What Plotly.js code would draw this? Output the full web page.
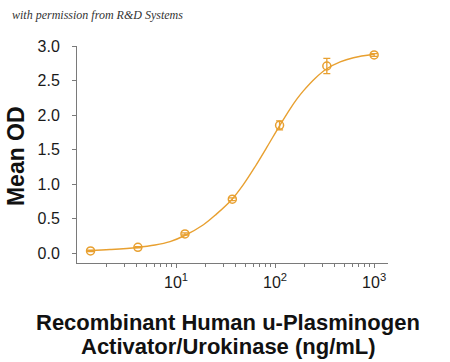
<!DOCTYPE html>
<html>
<head>
<meta charset="utf-8">
<script src="https://cdn.plot.ly/plotly-3.0.1.min.js"></script>
<style>
  html, body { margin: 0; padding: 0; background: #fff; }
  #chart { width: 450px; height: 362px; }
</style>
</head>
<body>
<div id="chart"></div>
<script>
// Measured points (concentration ng/mL, mean OD, error)
var concentration = [1.37, 4.12, 12.3, 37.0, 111, 333, 1000];
var meanOD = [0.03, 0.083, 0.276, 0.78, 1.85, 2.71, 2.87];
var errOD = [0.01, 0.01, 0.015, 0.02, 0.065, 0.11, 0.02];

// Fitted curve
var curveX = [1.37, 2.15, 4.04, 6.14, 8.70, 12.1, 18.9, 25.4, 36.8, 47.8, 62.8, 82.4, 110.5, 141.9, 165.6, 193, 253, 333, 454, 618, 1000];
var curveY = [0.035, 0.05, 0.08, 0.115, 0.165, 0.25, 0.41, 0.56, 0.78, 0.99, 1.25, 1.53, 1.84, 2.09, 2.23, 2.35, 2.53, 2.67, 2.77, 2.83, 2.88];

// Tick labels
var yTickVals = [0, 0.5, 1.0, 1.5, 2.0, 2.5, 3.0];
var xTickVals = [10, 100, 1000];
var xTickText = ['10<sup>1</sup>', '10<sup>2</sup>', '10<sup>3</sup>'];
var xMinorVals = [2, 3, 4, 5, 6, 7, 8, 9, 20, 30, 40, 50, 60, 70, 80, 90, 200, 300, 400, 500, 600, 700, 800, 900];

var orange = '#E8A030';
var axisGrey = '#7a7a7a';

var traces = [
  {
    x: curveX, y: curveY, type: 'scatter', mode: 'lines',
    line: { color: orange, width: 1.4, shape: 'spline', smoothing: 1 },
    hoverinfo: 'skip', showlegend: false
  },
  {
    x: concentration, y: meanOD, type: 'scatter', mode: 'markers',
    marker: { symbol: 'circle-open', size: 8, color: orange, line: { color: orange, width: 1.5 } },
    error_y: { type: 'data', array: errOD, visible: true, color: orange, thickness: 1.3, width: 3.5 },
    showlegend: false
  }
];

var layout = {
  width: 450, height: 362,
  margin: { l: 77, r: 62, t: 46, b: 99 },
  paper_bgcolor: '#ffffff', plot_bgcolor: '#ffffff',
  font: { family: 'Liberation Sans, Arial, sans-serif', color: '#1a1a1a' },
  showlegend: false,
  xaxis: {
    type: 'log', range: [0, 3.14],
    tickmode: 'array', tickvals: xTickVals, ticktext: xTickText,
    ticks: 'outside', ticklen: 4, tickcolor: axisGrey, tickwidth: 1,
    ticklabelstandoff: 1,
    minor: { tickmode: 'array', tickvals: xMinorVals, ticks: 'outside', ticklen: 3, tickcolor: axisGrey, tickwidth: 1, showgrid: false },
    showline: true, linecolor: axisGrey, linewidth: 1,
    showgrid: false, zeroline: false,
    tickfont: { size: 16, color: '#1a1a1a' }
  },
  yaxis: {
    range: [-0.145, 3.0],
    tickmode: 'array', tickvals: yTickVals, tickformat: '.1f',
    ticks: 'outside', ticklen: 4, tickcolor: axisGrey, tickwidth: 1,
    ticklabelstandoff: 9,
    showline: true, linecolor: axisGrey, linewidth: 1,
    showgrid: false, zeroline: false,
    tickfont: { size: 16, color: '#1a1a1a' }
  },
  annotations: [
    {
      text: 'with permission from R&amp;D Systems',
      xref: 'paper', yref: 'paper', x: -0.215, y: 1.143,
      xanchor: 'left', yanchor: 'middle', showarrow: false,
      font: { family: 'Liberation Serif, Times New Roman, serif', size: 12, style: 'italic', color: '#333333' }
    },
    {
      text: 'Mean OD',
      xref: 'paper', yref: 'paper', x: -0.196, y: 0.493,
      xanchor: 'center', yanchor: 'middle', textangle: -90, showarrow: false,
      font: { size: 23, weight: 'bold', color: '#111111' }
    },
    {
      text: 'Recombinant Human u-Plasminogen',
      xref: 'paper', yref: 'paper', x: 0.487, y: -0.272,
      xanchor: 'center', yanchor: 'middle', showarrow: false,
      font: { size: 22, weight: 'bold', color: '#111111' }
    },
    {
      text: 'Activator/Urokinase (ng/mL)',
      xref: 'paper', yref: 'paper', x: 0.487, y: -0.383,
      xanchor: 'center', yanchor: 'middle', showarrow: false,
      font: { size: 22, weight: 'bold', color: '#111111' }
    }
  ]
};

Plotly.newPlot('chart', traces, layout, { displayModeBar: false, staticPlot: true });
</script>
</body>
</html>
